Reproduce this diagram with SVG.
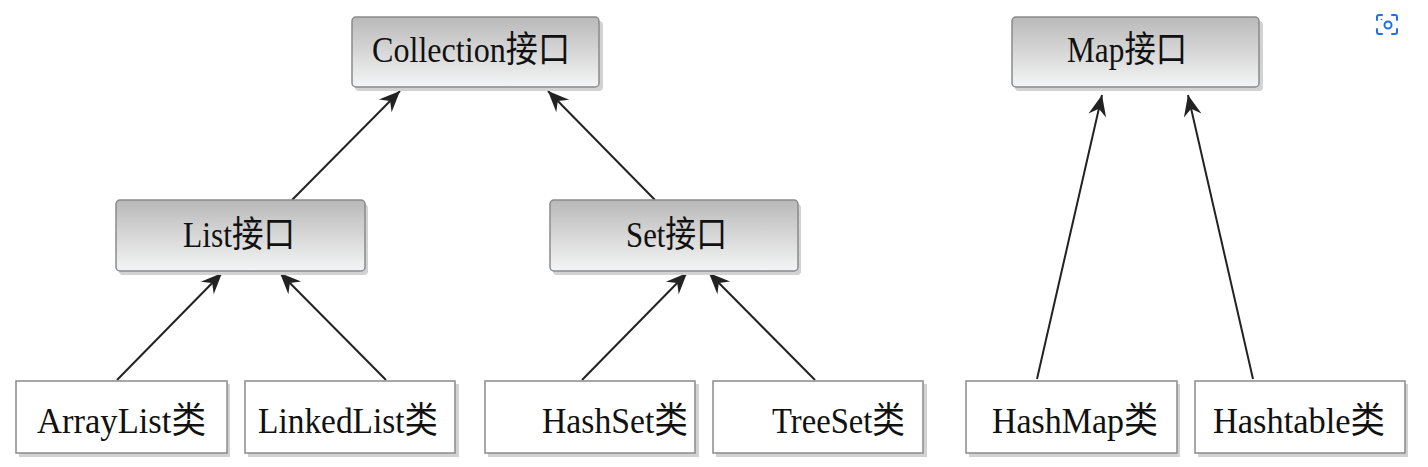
<svg xmlns="http://www.w3.org/2000/svg" width="1428" height="467" viewBox="0 0 1428 467">
  <defs>
    <linearGradient id="ifaceGrad" x1="0" y1="0" x2="0" y2="1">
      <stop offset="0" stop-color="#b9b9b9"/>
      <stop offset="0.55" stop-color="#dadada"/>
      <stop offset="1" stop-color="#f4f5f6"/>
    </linearGradient>
    <marker id="arrow" viewBox="-22 -11 24 22" refX="0" refY="0" markerWidth="24" markerHeight="22" markerUnits="userSpaceOnUse" orient="auto">
      <path d="M0,0 L-21,-9 L-14,0 L-21,9 Z" fill="#222"/>
    </marker>
  </defs>
  <style>
    .iface { fill: url(#ifaceGrad); stroke: #8a8a8a; stroke-width: 1.5; }
    .cls { fill: #ffffff; stroke: #8a8a8a; stroke-width: 1.5; }
    .shadow { fill: #d2d2d2; }
    .lbl { font-family: "Liberation Serif", "Noto Sans CJK SC", serif; font-size: 36px; fill: #111; }
    .edge { stroke: #222; stroke-width: 2; fill: none; marker-end: url(#arrow); }
  </style>
  <rect width="1428" height="467" fill="#ffffff"/>

  <g id="connectors">
    <line class="edge" x1="292" y1="200" x2="400" y2="91"/>
    <line class="edge" x1="655" y1="200" x2="548" y2="91"/>
    <line class="edge" x1="117" y1="380" x2="222" y2="273"/>
    <line class="edge" x1="386" y1="380" x2="280" y2="273"/>
    <line class="edge" x1="582" y1="380" x2="687" y2="273"/>
    <line class="edge" x1="815" y1="380" x2="709" y2="273"/>
    <line class="edge" x1="1037" y1="379" x2="1102" y2="95"/>
    <line class="edge" x1="1253" y1="379" x2="1188" y2="95"/>
  </g>

  <g id="collection">
    <rect class="shadow" x="355" y="21" width="248" height="70" rx="4"/>
    <rect class="iface" x="352" y="17" width="247" height="70" rx="4"/>
    <text class="lbl" x="372" y="62" textLength="198" lengthAdjust="spacingAndGlyphs">Collection接口</text>
  </g>
  <g id="map">
    <rect class="shadow" x="1015" y="21" width="248" height="70" rx="4"/>
    <rect class="iface" x="1012" y="17" width="247" height="70" rx="4"/>
    <text class="lbl" x="1067" y="62" textLength="120" lengthAdjust="spacingAndGlyphs">Map接口</text>
  </g>
  <g id="list">
    <rect class="shadow" x="119" y="204" width="249" height="71" rx="4"/>
    <rect class="iface" x="116" y="200" width="249" height="71" rx="4"/>
    <text class="lbl" x="183" y="247" textLength="112" lengthAdjust="spacingAndGlyphs">List接口</text>
  </g>
  <g id="set">
    <rect class="shadow" x="553" y="204" width="248" height="71" rx="4"/>
    <rect class="iface" x="550" y="200" width="248" height="71" rx="4"/>
    <text class="lbl" x="626" y="247" textLength="101" lengthAdjust="spacingAndGlyphs">Set接口</text>
  </g>

  <g id="arraylist">
    <rect class="shadow" x="19" y="384" width="211" height="73"/>
    <rect class="cls" x="16" y="381" width="211" height="72"/>
    <text class="lbl" x="37" y="433" textLength="169" lengthAdjust="spacingAndGlyphs">ArrayList类</text>
  </g>
  <g id="linkedlist">
    <rect class="shadow" x="248" y="384" width="211" height="73"/>
    <rect class="cls" x="245" y="381" width="210" height="72"/>
    <text class="lbl" x="258" y="433" textLength="180" lengthAdjust="spacingAndGlyphs">LinkedList类</text>
  </g>
  <g id="hashset">
    <rect class="shadow" x="488" y="384" width="211" height="73"/>
    <rect class="cls" x="485" y="381" width="210" height="72"/>
    <text class="lbl" x="542" y="433" textLength="146" lengthAdjust="spacingAndGlyphs">HashSet类</text>
  </g>
  <g id="treeset">
    <rect class="shadow" x="716" y="384" width="211" height="73"/>
    <rect class="cls" x="713" y="381" width="210" height="72"/>
    <text class="lbl" x="772" y="433" textLength="133" lengthAdjust="spacingAndGlyphs">TreeSet类</text>
  </g>
  <g id="hashmap">
    <rect class="shadow" x="969" y="384" width="211" height="73"/>
    <rect class="cls" x="966" y="381" width="211" height="72"/>
    <text class="lbl" x="992" y="433" textLength="166" lengthAdjust="spacingAndGlyphs">HashMap类</text>
  </g>
  <g id="hashtable">
    <rect class="shadow" x="1198" y="384" width="210" height="73"/>
    <rect class="cls" x="1195" y="381" width="210" height="72"/>
    <text class="lbl" x="1213" y="433" textLength="172" lengthAdjust="spacingAndGlyphs">Hashtable类</text>
  </g>

  <g id="zoom-icon" fill="none" stroke="#1a73e8" stroke-width="2" stroke-linecap="round">
    <path d="M1377,20 V17 Q1377,15 1379,15 H1382"/>
    <path d="M1392,15 H1395 Q1397,15 1397,17 V20"/>
    <path d="M1397,29 V32 Q1397,34 1395,34 H1392"/>
    <path d="M1382,34 H1379 Q1377,34 1377,32 V29"/>
    <circle cx="1388" cy="25" r="3.5"/>
    <circle cx="1381.5" cy="19.5" r="0.8" fill="#1a73e8" stroke="none"/>
  </g>
</svg>
